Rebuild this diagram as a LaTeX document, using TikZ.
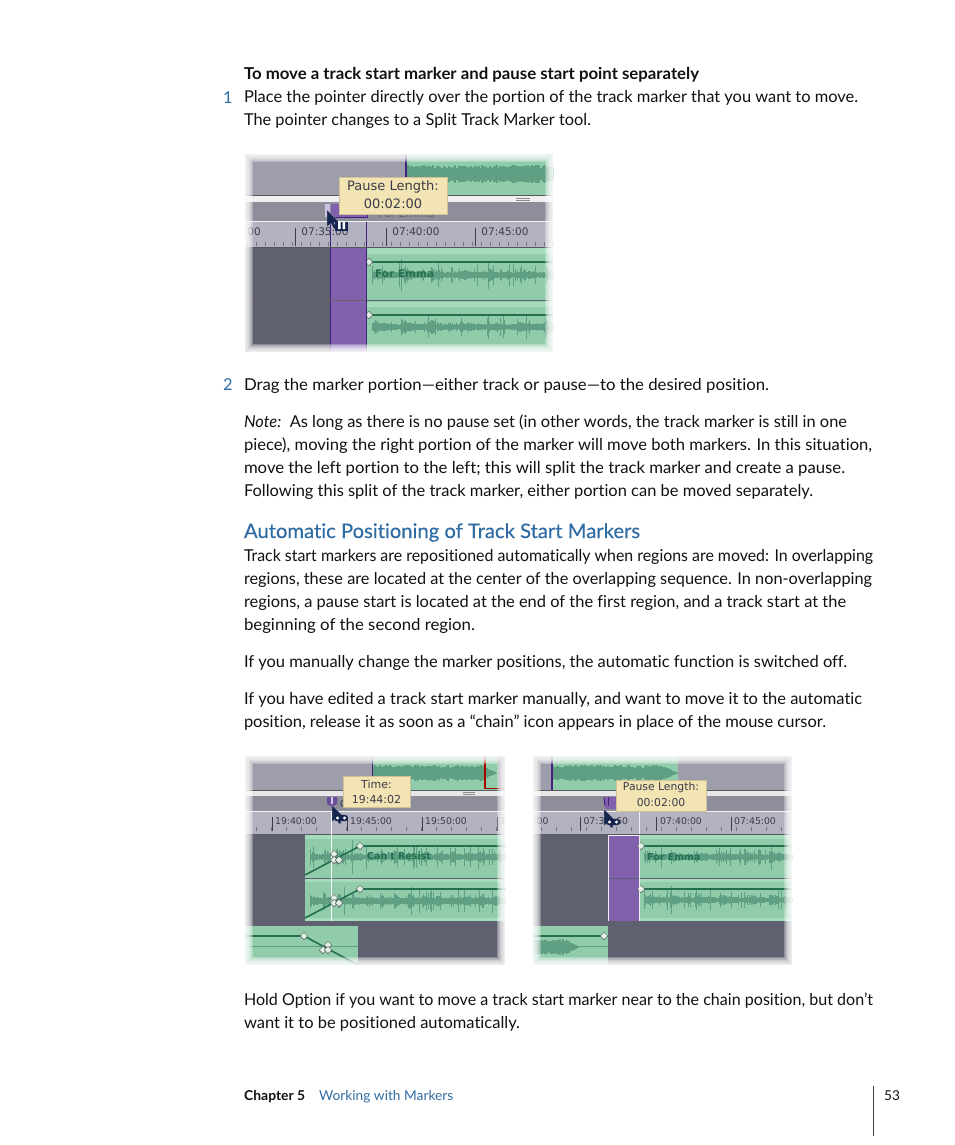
\documentclass[tikz,border=0pt]{standalone}
\usepackage{graphicx}
\usepackage{fontspec}
\setmainfont[Ligatures=NoCommon]{Lato}
\newfontfamily\headfont[Ligatures=NoCommon,FakeBold=0.3]{Lato}
\newfontfamily\uifont{DejaVu Sans}
\definecolor{bluetxt}{HTML}{2F6CA3}
\definecolor{bodytxt}{HTML}{111111}
\definecolor{panel}{HTML}{9D9DAB}
\definecolor{band}{HTML}{8E8E9A}
\definecolor{ruler}{HTML}{B2B2C1}
\definecolor{dark}{HTML}{606170}
\definecolor{pur}{HTML}{8161AE}
\definecolor{deeppur}{HTML}{45207E}
\definecolor{grn}{HTML}{90CBAA}
\definecolor{grnlight}{HTML}{A6DABD}
\definecolor{grndark}{HTML}{22704F}
\definecolor{wav}{HTML}{5F9F83}
\definecolor{tip}{HTML}{F3E4B3}
\definecolor{navy}{HTML}{16264F}
\definecolor{rtxt}{HTML}{3B3B4A}
\usetikzlibrary{shapes.geometric}
\tikzset{
  x=1pt,y=-1pt,
  body/.style={anchor=base west,inner sep=0pt,outer sep=0pt,text=bodytxt,font=\fontsize{16.4}{18}\selectfont},
  num/.style={anchor=base west,inner sep=0pt,text=bluetxt,font=\fontsize{16.4}{18}\selectfont},
  foot/.style={anchor=base west,inner sep=0pt,font=\fontsize{13.6}{15}\selectfont},
  rlabel/.style={inner sep=0pt,text=rtxt,font=\uifont\fontsize{#1}{#1}\selectfont},
  rlabel/.default=10.5,
  tiptext/.style={inner sep=0pt,text=rtxt,font=\uifont\fontsize{#1}{#1}\selectfont},
  trackline/.style={draw=grndark,line width=1.6pt},
  dia/.style={diamond,draw=black!65,fill=grnlight!35!white,line width=.5pt,minimum size=7.5pt,inner sep=0pt},
  majtick/.style={draw=rtxt,line width=.5pt},
  mintick/.style={draw=rtxt!70,line width=.35pt},
  edgefade/.style={draw=white,line width=#1,opacity=.15},
}
% width-fitted text line
\newcommand{\fitw}[2]{\resizebox{#1pt}{\height}{#2}}
% dense wave: x0,x1,yc,amp,seed
\newcommand{\densewave}[5]{%
  \pgfmathsetseed{#5}%
  \foreach \wx in {#1,...,#2}{%
    \pgfmathsetmacro\wh{#4*(.62+.38*rnd)*min(1,(#2-\wx+1)/14)}%
    \draw[wav,line width=1.1pt] (\wx,#3-\wh) -- (\wx,#3+\wh);
  }}
% spiky wave: x0,x1,yc,amp,period,seed
\newcommand{\spikewave}[6]{%
  \pgfmathsetseed{#6}%
  \foreach \wx in {#1,...,#2}{%
    \pgfmathsetmacro\wh{#4*(.12+.5*exp(-mod(\wx-#1,#5)/(#5*.3))*rnd+.75*rnd^12)+.8}%
    \draw[wav,line width=1pt] (\wx,#3-\wh) -- (\wx,#3+\wh);
  }}
% ruler ticks: x0,x1,y bottom, step
\newcommand{\rticks}[4]{%
  \foreach \tx in {#1,#4,...,#2}{\draw[mintick] (\tx,#3-4) -- (\tx,#3);}
}
% cursor with tip at x,y
\newcommand{\cursor}[2]{%
  \fill[navy,draw=white!70!navy,line width=.3pt] (#1,#2) -- (#1,#2+17) -- (#1+4,#2+13.5) -- (#1+7,#2+19) -- (#1+9.5,#2+18) -- (#1+7,#2+12.5) -- (#1+12,#2+12) -- cycle;
}
\newcommand{\chainicon}[2]{%
  \fill[navy,rounded corners=3pt] (#1-7,#2-3.2) rectangle (#1+7,#2+3.2);
  \fill[white] (#1-3.5,#2) circle (1.7);
  \fill[white] (#1+3.5,#2) circle (1.7);
}
\newcommand{\softedge}[4]{%
  \foreach \i in {1,...,14}{\draw[edgefade=\i*1.2pt] (#1,#2) rectangle (#3,#4);}
}
\begin{document}
\begin{tikzpicture}
\useasboundingbox[fill=white] (0,0) rectangle (954,1145);

%% ---------------- text
\node[body,font=\bfseries\fontsize{16.4}{18}\selectfont] (t1) at (244,80) {\fitw{455}{To move a track start marker and pause start point separately}};
\node[num] (n1) at (223,103) {1};
\node[body] (t2) at (244,103) {\fitw{614}{Place the pointer directly over the portion of the track marker that you want to move.}};
\node[body] (t3) at (244,125) {\fitw{347}{The pointer changes to a Split Track Marker tool.}};
\node[num] (n2) at (223,390) {2};
\node[body] (t4) at (244,390) {\fitw{525}{Drag the marker portion—either track or pause—to the desired position.}};
\node[body] (t5) at (244,427) {\fitw{603}{\itshape Note:\upshape\ \ As long as there is no pause set (in other words, the track marker is still in one}};
\node[body] (t6) at (244,450) {\fitw{628}{piece), moving the right portion of the marker will move both markers. In this situation,}};
\node[body] (t7) at (244,473) {\fitw{601}{move the left portion to the left; this will split the track marker and create a pause.}};
\node[body] (t8) at (244,496) {\fitw{569}{Following this split of the track marker, either portion can be moved separately.}};
\node[body,text=bluetxt,font=\headfont\fontsize{20}{22}\selectfont] (h1) at (244,538) {\fitw{396}{Automatic Positioning of Track Start Markers}};
\node[body] (t9) at (244,561) {\fitw{629}{Track start markers are repositioned automatically when regions are moved: In overlapping}};
\node[body] (t10) at (244,584) {\fitw{628}{regions, these are located at the center of the overlapping sequence. In non-overlapping}};
\node[body] (t11) at (244,607) {\fitw{602}{regions, a pause start is located at the end of the first region, and a track start at the}};
\node[body] (t12) at (244,630) {\fitw{231}{beginning of the second region.}};
\node[body] (t13) at (244,667) {\fitw{603}{If you manually change the marker positions, the automatic function is switched off.}};
\node[body] (t14) at (244,704) {\fitw{618}{If you have edited a track start marker manually, and want to move it to the automatic}};
\node[body] (t15) at (244,727) {\fitw{582}{position, release it as soon as a “chain” icon appears in place of the mouse cursor.}};
\node[body] (t16) at (244,1005) {\fitw{629}{Hold Option if you want to move a track start marker near to the chain position, but don’t}};
\node[body] (t17) at (244,1028) {\fitw{276}{want it to be positioned automatically.}};
\node[foot,font=\bfseries\fontsize{13.6}{15}\selectfont,text=bodytxt] (f1) at (244,1100) {\fitw{61}{Chapter 5}};
\node[foot,text=bluetxt] (f2) at (319,1100) {\fitw{134}{Working with Markers}};
\node[foot,text=bodytxt] (f3) at (884,1100) {53};
\draw[black!75,line width=.7pt] (873,1086) -- (873,1136);

%% ---------------- screenshot 1
\begin{scope}
\clip (245,154) rectangle (553,352);
\fill[panel] (245,154) rectangle (553,195);
\fill[grn] (406,154) rectangle (553,195);
\densewave{407}{575}{174}{9}{11}
\draw[deeppur,line width=1.3pt] (406,154) -- (406,195);
\fill[white!85!panel] (245,196) rectangle (553,202);
\draw[black!65,line width=.8pt] (245,195.5) -- (553,195.5);
\draw[black!45,line width=.5pt] (516,198) -- (530,198) (516,200) -- (530,200);
\fill[band] (245,202) rectangle (553,221);
\fill[pur] (331,204) rectangle (367,217);
\draw[deeppur,line width=.9pt] (367,204) -- (367,217) -- (327,217);
\fill[white!60!pur] (325,204) rectangle (330,217);
\node[rlabel=11,text=black!60,anchor=base west] (e1) at (378,217) {For Emma};
\fill[ruler] (245,222) rectangle (553,247);
\draw[white!85!ruler,line width=1pt] (245,221.5) -- (553,221.5);
\draw[black!65,line width=.9pt] (245,247.5) -- (553,247.5);
\rticks{247}{553}{246}{256}
\foreach \mx in {295,386,475}{\draw[majtick] (\mx,246) -- (\mx,228);}
\node[rlabel] (r1) at (254,232) {00};
\node[rlabel] (r2) at (325,232) {07:35:00};
\node[rlabel] (r3) at (416,232) {07:40:00};
\node[rlabel] (r4) at (505,232) {07:45:00};
\draw[deeppur,line width=1pt] (366,222) -- (366,247);
\draw[deeppur,line width=1pt] (330,222) -- (330,247);
\fill[dark] (245,248) rectangle (330,352);
\fill[pur] (330,248) rectangle (366,352);
\draw[deeppur,line width=1pt] (330,248) -- (330,352);
\fill[grn] (366,248) rectangle (553,352);
\fill[grnlight] (366,248) rectangle (553,254);
\fill[grnlight] (366,302) rectangle (553,307);
\draw[black!60,line width=.7pt] (245,300.5) -- (366,300.5);
\draw[dark,line width=1pt] (366,300.5) -- (553,300.5);
\spikewave{372}{553}{275}{13}{29}{5}
\spikewave{372}{553}{327}{13}{29}{6}
\draw[trackline] (369,262) -- (553,262);
\draw[trackline] (369,315) -- (553,315);
\node[dia] (d1) at (369,262) {};
\node[dia] (d2) at (369,315) {};
\draw[deeppur,line width=1pt] (366,248) -- (366,352);
\node[rlabel=11.5,text=grndark,anchor=base west,font=\bfseries\uifont\fontsize{10.5}{11}\selectfont] (e2) at (375,277) {For Emma};
\fill[tip,draw=tip!85!black,line width=.3pt] (339,177) rectangle (447,214);
\node[tiptext=13] (p1) at (393,186.5) {Pause Length:};
\node[tiptext=13] (p2) at (393,204) {00:02:00};
\cursor{327}{210}
\fill[navy] (335,222) rectangle (348,231);
\fill[white] (338,221) rectangle (340.5,229) (342.5,221) rectangle (345,229);
\softedge{245}{154}{553}{352}
\end{scope}

%% ---------------- screenshot 2
\begin{scope}
\clip (245,756) rectangle (505,965);
\fill[panel] (245,756) rectangle (505,790);
\fill[grn] (372,756) rectangle (498,790);
\densewave{373}{496}{773}{8}{21}
\draw[deeppur,line width=1.3pt] (372.5,756) -- (372.5,790);
\draw[red!65!black,line width=1.5pt] (485,756) -- (485,788.5) -- (505,788.5);
\draw[black!65,line width=.8pt] (245,790.5) -- (505,790.5);
\fill[white!75!panel] (245,791) rectangle (505,796);
\draw[black!45,line width=.5pt] (463,792.5) -- (475,792.5) (463,794.5) -- (475,794.5);
\fill[band] (245,796) rectangle (505,811);
\fill[ruler] (245,812) rectangle (505,834);
\draw[white!85!ruler,line width=1pt] (245,811.5) -- (505,811.5);
\draw[black!65,line width=.9pt] (245,834) -- (505,834);
\rticks{256}{505}{831}{271}
\foreach \mx in {272,347,422,497}{\draw[majtick] (\mx,831) -- (\mx,817);}
\node[rlabel=9.3] (r5) at (296,821) {19:40:00};
\node[rlabel=9.3] (r6) at (371,821) {19:45:00};
\node[rlabel=9.3] (r7) at (446,821) {19:50:00};
\node[rlabel=9.3,anchor=west] (r8) at (500,821) {1};
\fill[dark] (245,835) rectangle (305,921);
\fill[grn] (305,835) rectangle (505,921);
\fill[grnlight] (305,835) rectangle (505,839);
\fill[grnlight] (305,879) rectangle (505,882);
\fill[grnlight] (305,918) rectangle (505,921);
\draw[dark,line width=.9pt] (245,878) -- (505,878);
\spikewave{310}{505}{857}{13}{14}{7}
\spikewave{310}{505}{901}{14}{14}{8}
\draw[trackline] (305,875) -- (360,846) -- (505,846);
\draw[trackline] (305,918) -- (360,889) -- (505,889);
\node[rlabel,text=grndark,anchor=base west,font=\bfseries\uifont\fontsize{9.5}{10}\selectfont] (e3) at (367,859) {Can't Resist};
\draw[white,line width=.9pt] (331,812) -- (331,921);
\node[dia] (d3) at (360,846) {};
\node[dia] (d4) at (334,854) {};
\node[dia] (d5) at (334,860) {};
\node[dia] (d6) at (339,860) {};
\node[dia] (d7) at (360,889) {};
\node[dia] (d8) at (334,898) {};
\node[dia] (d9) at (334,903) {};
\node[dia] (d10) at (339,903) {};
\fill[dark] (245,921) rectangle (505,926);
\fill[dark] (358,926) rectangle (505,965);
\fill[grn] (245,926) rectangle (358,965);
\draw[wav,line width=.7pt] (245,946) -- (358,946);
\draw[trackline] (245,936) -- (304,936) -- (358,965);
\node[dia] (d11) at (304,936) {};
\node[dia] (d12) at (328,945) {};
\node[dia] (d13) at (323,950) {};
\node[dia] (d14) at (328,950) {};
\fill[deeppur!80!white] (327,797) -- (337,797) -- (337,804) -- (332,807) -- (327,804) -- cycle;
\fill[white!65!pur] (331,797) rectangle (333,804);
\node[rlabel=10,anchor=base west] (e4) at (340,807) {C};
\fill[tip,draw=tip!85!black,line width=.3pt] (343,776) rectangle (410,807);
\node[tiptext=11] (p3) at (376.5,784) {Time:};
\node[tiptext=11] (p4) at (376.5,799) {19:44:02};
\cursor{332}{805}
\chainicon{341}{818}
\softedge{245}{756}{505}{965}
\end{scope}

%% ---------------- screenshot 3
\begin{scope}
\clip (533,756) rectangle (792,965);
\fill[panel] (533,756) rectangle (792,790);
\fill[grn] (552,756) rectangle (678,790);
\densewave{553}{677}{773}{8}{31}
\draw[deeppur,line width=1.3pt] (552,756) -- (552,790);
\draw[black!65,line width=.8pt] (533,790.5) -- (792,790.5);
\fill[white!75!panel] (533,791) rectangle (792,796);
\fill[band] (533,796) rectangle (792,811);
\fill[pur] (605,797) rectangle (616,809);
\draw[deeppur,line width=1pt] (604,797) -- (605,806);
\draw[deeppur,line width=1pt] (608,797) -- (608,806);
\fill[ruler] (533,812) rectangle (792,834);
\draw[white!85!ruler,line width=1pt] (533,811.5) -- (792,811.5);
\draw[black!65,line width=.9pt] (533,834) -- (792,834);
\rticks{541}{792}{831}{556}
\foreach \mx in {580,656,731}{\draw[majtick] (\mx,831) -- (\mx,817);}
\node[rlabel=9.3] (r9) at (541,821) {:00};
\node[rlabel=9.3] (r10) at (594,821) {07:3};
\node[rlabel=9.3] (r11) at (622,821) {60};
\node[rlabel=9.3] (r12) at (681,821) {07:40:00};
\node[rlabel=9.3] (r13) at (755,821) {07:45:00};
\draw[white!80!ruler,line width=1pt] (639,812) -- (639,834);
\fill[dark] (533,835) rectangle (608,921);
\fill[pur] (608,835) rectangle (639,921);
\fill[grn] (639,835) rectangle (792,921);
\fill[grnlight] (639,835) rectangle (792,839);
\fill[grnlight] (639,879) rectangle (792,882);
\fill[grnlight] (639,918) rectangle (792,921);
\draw[dark,line width=.9pt] (533,878) -- (792,878);
\spikewave{644}{792}{857}{13}{25}{9}
\spikewave{644}{792}{900}{12}{25}{10}
\draw[trackline] (641,846) -- (792,846);
\draw[trackline] (641,889) -- (792,889);
\node[dia] (d15) at (641,846) {};
\node[dia] (d16) at (641,889) {};
\node[rlabel,text=grndark,anchor=base west,font=\bfseries\uifont\fontsize{9.5}{10}\selectfont] (e5) at (647,860) {For Emma};
\draw[white!90!pur,line width=1pt] (608,835) rectangle (639,921);
\fill[dark] (533,921) rectangle (792,926);
\fill[dark] (608,926) rectangle (792,965);
\fill[grn] (533,926) rectangle (608,965);
\draw[wav,line width=.7pt] (533,946) -- (608,946);
\densewave{533}{578}{947}{8}{41}
\draw[trackline] (533,936) -- (604,936);
\node[dia] (d17) at (604,936) {};
\fill[tip,draw=tip!85!black,line width=.3pt] (616,780) rectangle (706,811);
\node[tiptext=10.8] (p5) at (661,788) {Pause Length:};
\node[tiptext=10.8] (p6) at (661,803) {00:02:00};
\cursor{604}{809}
\chainicon{613}{822}
\softedge{533}{756}{792}{965}
\end{scope}
\end{tikzpicture}
\end{document}
